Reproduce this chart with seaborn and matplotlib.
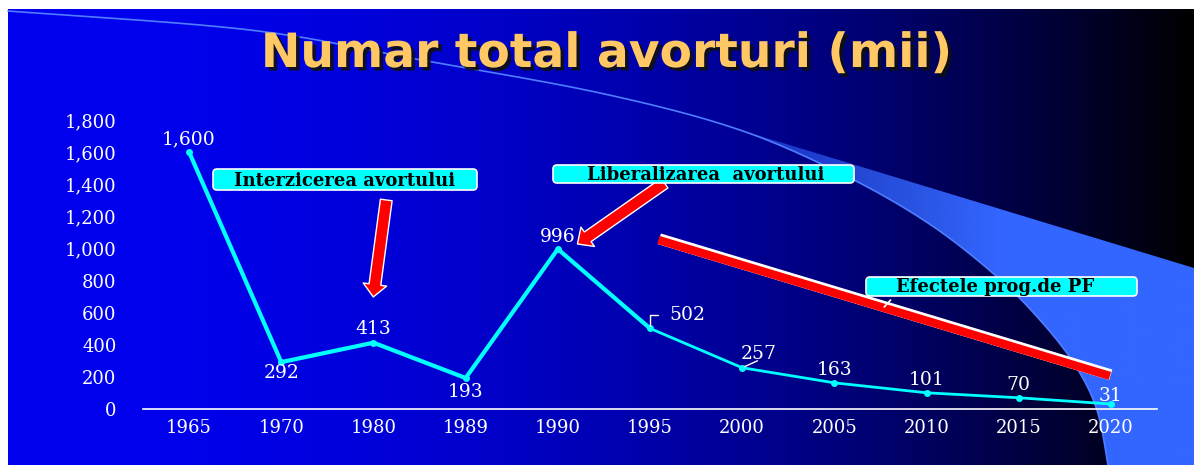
import numpy as np
import pandas as pd
import matplotlib
matplotlib.use("Agg")
import matplotlib.pyplot as plt
import matplotlib.patheffects as pe
from matplotlib.patches import Polygon, FancyBboxPatch
from matplotlib.ticker import FuncFormatter
import seaborn as sns

# --- Data ---
years = ["1965", "1970", "1980", "1989", "1990", "1995", "2000", "2005", "2010", "2015", "2020"]
abortions = [1600, 292, 413, 193, 996, 502, 257, 163, 101, 70, 31]
y_ticks = [0, 200, 400, 600, 800, 1000, 1200, 1400, 1600, 1800]

title = "Numar total avorturi (mii)"
note_ban = "Interzicerea avortului"
note_lib = "Liberalizarea  avortului"
note_pf = "Efectele prog.de PF"

# label offsets (points) for each value label
label_offsets = [(0, 9), (0, -8), (0, 10), (0, -10), (0, 9), (27, 10),
                 (12, 10), (0, 9.5), (0, 9.5), (0, 9), (0, 6)]

df = pd.DataFrame({"an": years, "avorturi": abortions})

W, H = 1194, 465
sns.set_theme(style="white")
plt.rcParams["font.family"] = ["DejaVu Serif"]

fig = plt.figure(figsize=(W / 100, H / 100), dpi=100)
fig.patch.set_facecolor("white")


def smooth(pts, n=24):
    # catmull-rom through the control points
    pts = np.asarray(pts, float)
    p = np.vstack([pts[0], pts, pts[-1]])
    t = np.linspace(0, 1, n, endpoint=False)[:, None]
    out = []
    for i in range(1, len(p) - 2):
        p0, p1, p2, p3 = p[i - 1], p[i], p[i + 1], p[i + 2]
        out.append(0.5 * (2 * p1 + (-p0 + p2) * t
                          + (2 * p0 - 5 * p1 + 4 * p2 - p3) * t ** 2
                          + (-p0 + 3 * p1 - 3 * p2 + p3) * t ** 3))
    out.append(pts[-1:])
    return np.vstack(out)


# --- Background (pixel coords) ---
bg = fig.add_axes([0, 0, 1, 1])
bg.axis("off")
xs = np.linspace(0, 1, 600)
grad = np.zeros((2, 600, 3))
grad[..., 2] = 240 * (1 - xs ** 2) / 255
bg.imshow(grad, extent=[8, W, H, 10], aspect="auto", interpolation="bilinear")

arc = smooth([(8, 11), (250, 30), (421, 60), (600, 93), (737, 129), (844, 175),
              (928, 223), (995, 275), (1040, 320), (1075, 365), (1097, 410), (1108, 465)])
lower = arc[arc[:, 0] >= 737]
poly = np.vstack([[(737, 129), (W, 268), (W, H)], lower[::-1]])
patch = Polygon(poly, closed=True, fc="none", ec="none")
bg.add_patch(patch)
sw = np.zeros((2, 400, 4))
sx = np.linspace(737, W, 400)
sw[..., 0], sw[..., 1], sw[..., 2] = 0x33 / 255, 0x66 / 255, 1.0
sw[..., 3] = np.clip(0.45 + (sx - 737) / 260 * 0.55, 0, 1)
im = bg.imshow(sw, extent=[737, W, H, 129], aspect="auto", interpolation="bilinear")
im.set_clip_path(patch)
bg.plot(arc[:, 0], arc[:, 1], color="#4f7dff", lw=1.2)
bg.set_xlim(0, W)
bg.set_ylim(H, 0)

fig.text(607 / W, 1 - 67 / H, title, ha="center", va="baseline", fontsize=34,
         fontweight="bold", family="DejaVu Sans", color="#FFC864",
         path_effects=[pe.withSimplePatchShadow(offset=(2.5, -2.5), shadow_rgbFace="#101010", alpha=0.9)])

# --- Main chart ---
ax = fig.add_axes([143 / W, (H - 409) / H, (1157 - 143) / W, (409 - 120) / H])
ax.patch.set_alpha(0)
sns.lineplot(data=df, x="an", y="avorturi", ax=ax, sort=False, color="#00FFFF",
             lw=2, marker="o", markersize=5, markeredgewidth=0)
sns.lineplot(data=df.iloc[:6], x="an", y="avorturi", ax=ax, sort=False,
             color="#00FFFF", lw=3)

ax.set_xlim(-0.5, 10.5)
ax.set_ylim(0, 1800)
ax.set_yticks(y_ticks)
ax.yaxis.set_major_formatter(FuncFormatter(lambda v, _: f"{int(v):,}"))
ax.set_xlabel("")
ax.set_ylabel("")
ax.tick_params(axis="both", colors="white", labelsize=13, length=0)
ax.tick_params(axis="y", pad=19)
ax.tick_params(axis="x", pad=7)
for s in ["top", "right", "left"]:
    ax.spines[s].set_visible(False)
ax.spines["bottom"].set_color("white")
ax.spines["bottom"].set_linewidth(1.2)

for i, (v, off) in enumerate(zip(abortions, label_offsets)):
    ax.annotate(f"{v:,}", (i, v), xytext=off, textcoords="offset points",
                ha="center", va="center", color="white", fontsize=13.5)

# leader ticks for 502 and 257
ax.annotate("", (5, 502), xytext=(6, 10), textcoords="offset points",
            arrowprops=dict(arrowstyle="-", color="white", lw=1,
                            connectionstyle="angle,angleA=0,angleB=90,rad=0", shrinkA=0, shrinkB=2))
ax.annotate("", (6, 257), xytext=(11, 5), textcoords="offset points",
            arrowprops=dict(arrowstyle="-", color="white", lw=1, shrinkA=0, shrinkB=2))

# --- Callouts (boxes placed in pixel coords, text on baseline) ---
callouts = [(note_ban, (213, 169, 264, 21), (345, 186)),
            (note_lib, (553, 165, 301, 18), (706, 180)),
            (note_pf, (866, 277, 271, 19), (995, 292))]
for txt, (bx, by, bw, bh), (tx, ty) in callouts:
    ax.add_patch(FancyBboxPatch((bx, by), bw, bh, boxstyle="round,pad=0,rounding_size=4",
                                fc="#00FFFF", ec="white", lw=1.2,
                                transform=bg.transData, clip_on=False, zorder=4))
    ax.text(tx, ty, txt, ha="center", va="baseline", fontsize=13, fontweight="bold",
            color="black", transform=bg.transData, zorder=5)

arrow = dict(arrowstyle="simple,head_length=0.9,head_width=1.7,tail_width=0.85",
             fc="red", ec="white", lw=1, mutation_scale=10, shrinkA=0, shrinkB=0)
ax.annotate("", xy=(1.998, 698), xytext=(2.139, 1302), arrowprops=arrow)
ax.annotate("", xy=(4.213, 1028), xytext=(5.158, 1407), arrowprops=arrow)
ax.plot([5.092, 9.989], [1053, 206], color="red", lw=6, solid_capstyle="butt",
        path_effects=[pe.Stroke(linewidth=8, foreground="white", offset=(0.6, 0.8)), pe.Normal()])
ax.plot([7.54, 7.61], [635, 679], color="white", lw=1.2)

fig.savefig("out.png", dpi=100, facecolor=fig.get_facecolor())
